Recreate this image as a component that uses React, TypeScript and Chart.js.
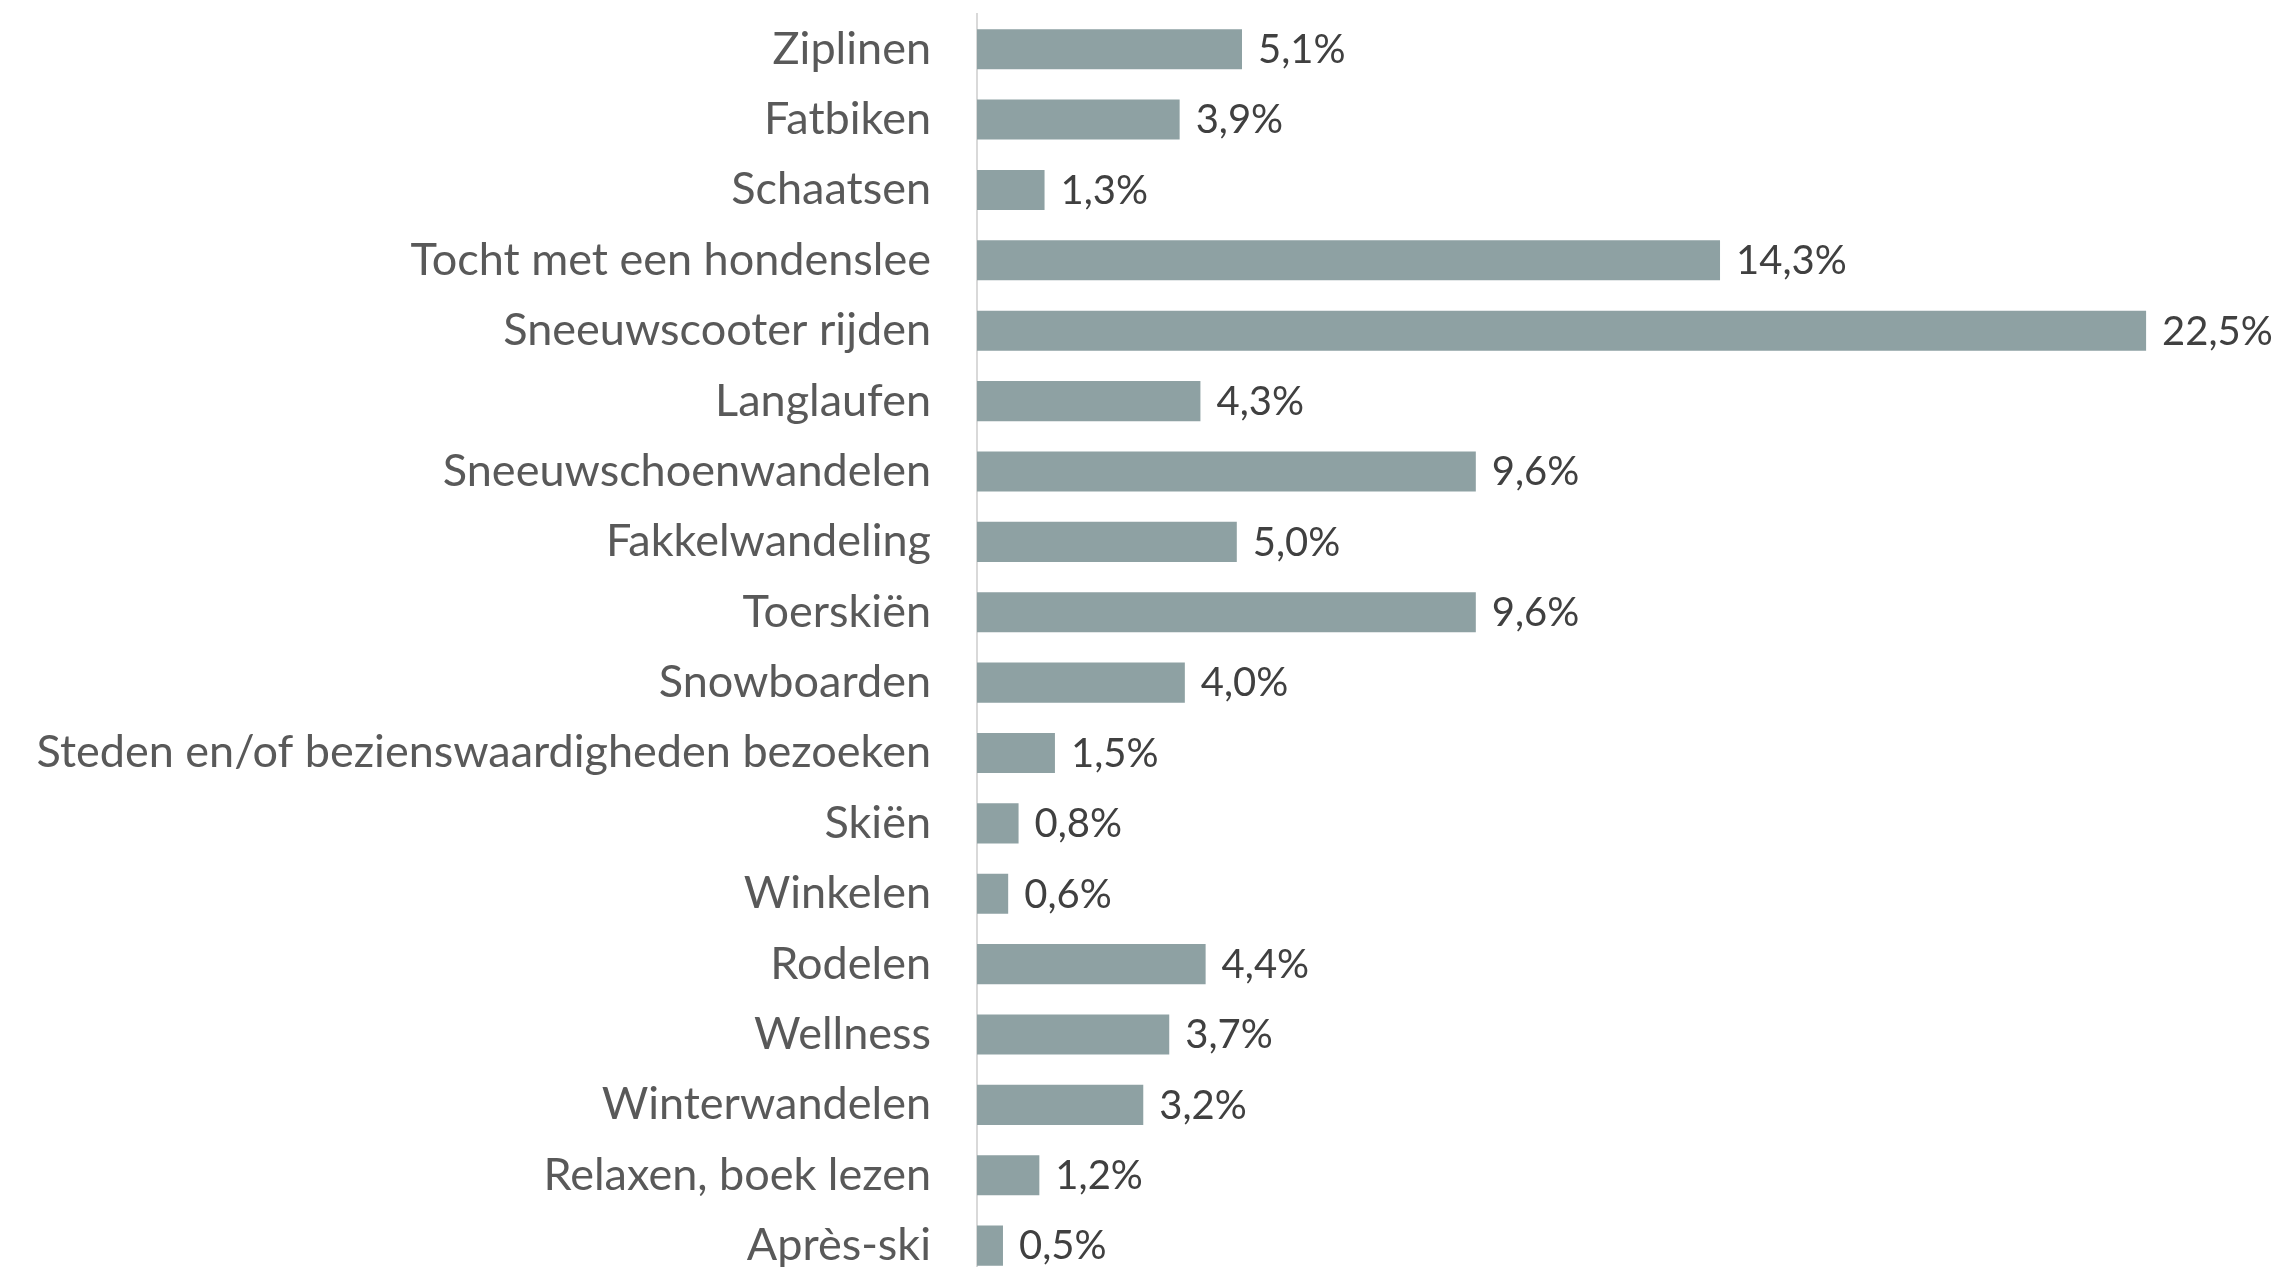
import React, { useEffect, useRef } from "react";
import { Chart, registerables } from "chart.js";

Chart.register(...registerables);

const categories = [
  "Ziplinen",
  "Fatbiken",
  "Schaatsen",
  "Tocht met een hondenslee",
  "Sneeuwscooter rijden",
  "Langlaufen",
  "Sneeuwschoenwandelen",
  "Fakkelwandeling",
  "Toerskiën",
  "Snowboarden",
  "Steden en/of bezienswaardigheden bezoeken",
  "Skiën",
  "Winkelen",
  "Rodelen",
  "Wellness",
  "Winterwandelen",
  "Relaxen, boek lezen",
  "Après-ski",
];

const values = [5.1, 3.9, 1.3, 14.3, 22.5, 4.3, 9.6, 5.0, 9.6, 4.0, 1.5, 0.8, 0.6, 4.4, 3.7, 3.2, 1.2, 0.5];

const xMin = 0;
const xMax = 25;

const FONT = "Lato, 'Open Sans', sans-serif";

const valueLabels = {
  id: "valueLabels",
  afterDatasetsDraw(chart: any) {
    const ctx = chart.ctx;
    const meta = chart.getDatasetMeta(0);
    ctx.save();
    ctx.font = `40px ${FONT}`;
    ctx.fillStyle = "#404040";
    ctx.textAlign = "left";
    ctx.textBaseline = "middle";
    meta.data.forEach((bar: any, i: number) => {
      const txt = values[i].toFixed(1).replace(".", ",") + "%";
      ctx.fillText(txt, bar.x + 16, bar.y + 1);
    });
    ctx.restore();
  },
};

export default function App() {
  const ref = useRef<HTMLCanvasElement | null>(null);
  useEffect(() => {
    if (!ref.current) return;
    const chart = new Chart(ref.current, {
      type: "bar",
      data: {
        labels: categories,
        datasets: [
          {
            data: values,
            backgroundColor: "#8ea1a3",
            borderWidth: 0,
            barPercentage: 0.57,
            categoryPercentage: 1,
          },
        ],
      },
      options: {
        indexAxis: "y",
        animation: false,
        responsive: false,
        maintainAspectRatio: false,
        layout: { padding: { top: 14, bottom: 0, left: 0, right: 10 } },
        plugins: { legend: { display: false }, tooltip: { enabled: false } },
        scales: {
          x: { display: false, min: xMin, max: xMax },
          y: {
            grid: {
              display: true,
              drawOnChartArea: false,
              drawTicks: true,
              tickLength: 46,
              color: "rgba(0,0,0,0)",
              tickColor: "rgba(0,0,0,0)",
            },
            border: { display: true, color: "#d9d9d9", width: 2 },
            ticks: {
              color: "#595959",
              padding: 0,
              font: { family: FONT, size: 45, lineHeight: 0.01 },
            },
            afterFit(scale: any) {
              scale.width = 977;
            },
          },
        },
      },
      plugins: [valueLabels],
    });
    return () => chart.destroy();
  }, []);
  return (
    <div style={{ position: "fixed", left: 0, top: 0, width: 2286, height: 1267, overflow: "hidden", background: "#fff" }}>
      <canvas ref={ref} width={2286} height={1281} style={{ display: "block", width: 2286, height: 1281 }} />
    </div>
  );
}
